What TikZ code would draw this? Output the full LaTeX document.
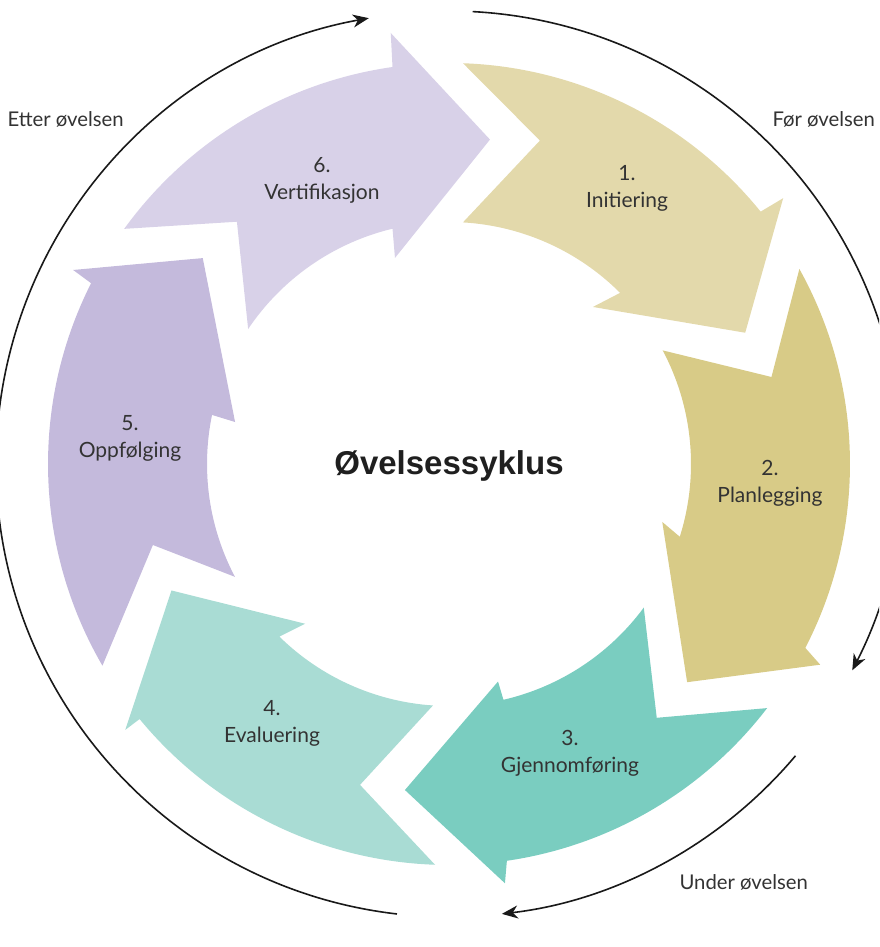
\documentclass[tikz,border=0pt]{standalone}
\usepackage{fontspec}
\setmainfont{Lato}
\newfontfamily\titlefont{Liberation Sans}
\usetikzlibrary{arrows.meta}

\definecolor{stepA}{HTML}{E3D9AB}
\definecolor{stepB}{HTML}{D8CB87}
\definecolor{stepC}{HTML}{7ACDC0}
\definecolor{stepD}{HTML}{A9DCD4}
\definecolor{stepE}{HTML}{C4BADC}
\definecolor{stepF}{HTML}{D8D1E8}
\definecolor{ink}{HTML}{333333}

\tikzset{
  stagelabel/.style={align=center,text=ink,font=\fontsize{21}{27}\selectfont},
  phaselabel/.style={anchor=base west,text=ink,font=\fontsize{20.3}{24}\selectfont},
  ring/.style={line width=1.6pt,color=black!90,-{Stealth[length=16pt,width=13pt,inset=5pt]}}
}

\begin{document}
\begin{tikzpicture}[x=1pt,y=1pt]
  \clip (0,0) rectangle (879,947);

  \begin{scope}[shift={(449,483)}]
    % the six stage arrows
    \fill[stepA] (88:401) arc[start angle=88,end angle=39,radius=401] -- (38.5:427) -- (23.9:324)
      -- (47.5:213) -- (45:242) arc[start angle=45,end angle=86.7,radius=242] -- (74.3:336) -- cycle;
    \fill[stepB] (29.1:401) arc[start angle=29.1,end angle=-27.3,radius=401] -- (-28.4:422) -- (-42.5:323)
      -- (-15.2:221) -- (-17.5:242) arc[start angle=-17.5,end angle=28,radius=242] -- (15.1:334) -- cycle;
    \fill[stepC] (-37.5:401) arc[start angle=-37.5,end angle=-81.7,radius=401] -- (-82.4:423) -- (-97.7:329)
      -- (-77.3:223) -- (-77:242) arc[start angle=-77,end angle=-36.4,radius=242] -- (-50.7:328) -- cycle;
    \fill[stepD] (-92:401) arc[start angle=-92,end angle=-140.5,radius=401] -- (-140.6:419) -- (-155.5:305)
      -- (-132:215) -- (-134.5:242) arc[start angle=-134.5,end angle=-93.8,radius=242] -- (-105.5:333) -- cycle;
    \fill[stepE] (-149.8:401) arc[start angle=-149.8,end angle=-206.8,radius=401] -- (-207.3:423) -- (-219.9:321)
      -- (-191.1:218) -- (-191.7:242) arc[start angle=-191.7,end angle=-152.2,radius=242] -- (-164.7:307) -- cycle;
    \fill[stepF] (144.1:401) arc[start angle=144.1,end angle=98.1,radius=401] -- (97.7:435) -- (82.8:327)
      -- (104.7:213) -- (103.5:242) arc[start angle=103.5,end angle=146.1,radius=242] -- (131.2:322) -- cycle;

    % outer ring
    \draw[ring] (87:453) arc[start angle=87,end angle=-27.1,radius=453];
    \draw[ring] (-40.1:453) arc[start angle=-40.1,end angle=-83.3,radius=453];
    \draw[ring] (263.4:453) arc[start angle=263.4,end angle=100.2,radius=453];
  \end{scope}

  \node[stagelabel] (init) at (627,758.5) {1.\\Initiering};
  \node[stagelabel] (plan) at (770,463.5) {2.\\Planlegging};
  \node[stagelabel] (gjen) at (570,193.5) {3.\\Gjennomføring};
  \node[stagelabel] (eval) at (272,224) {4.\\Evaluering};
  \node[stagelabel] (oppf) at (130,508.5) {5.\\Oppfølging};
  \node[stagelabel] (vert) at (322,766.5) {6.\\Vertifikasjon};

  \node[anchor=base,text=black!88,font=\titlefont\bfseries\fontsize{33}{38}\selectfont] (title) at (449,472) {Øvelsessyklus};

  \node[phaselabel] (etter) at (4,820) {Etter øvelsen};
  \node[phaselabel] (foer) at (769,820) {Før øvelsen};
  \node[phaselabel] (under) at (676,57) {Under øvelsen};
\end{tikzpicture}
\end{document}
